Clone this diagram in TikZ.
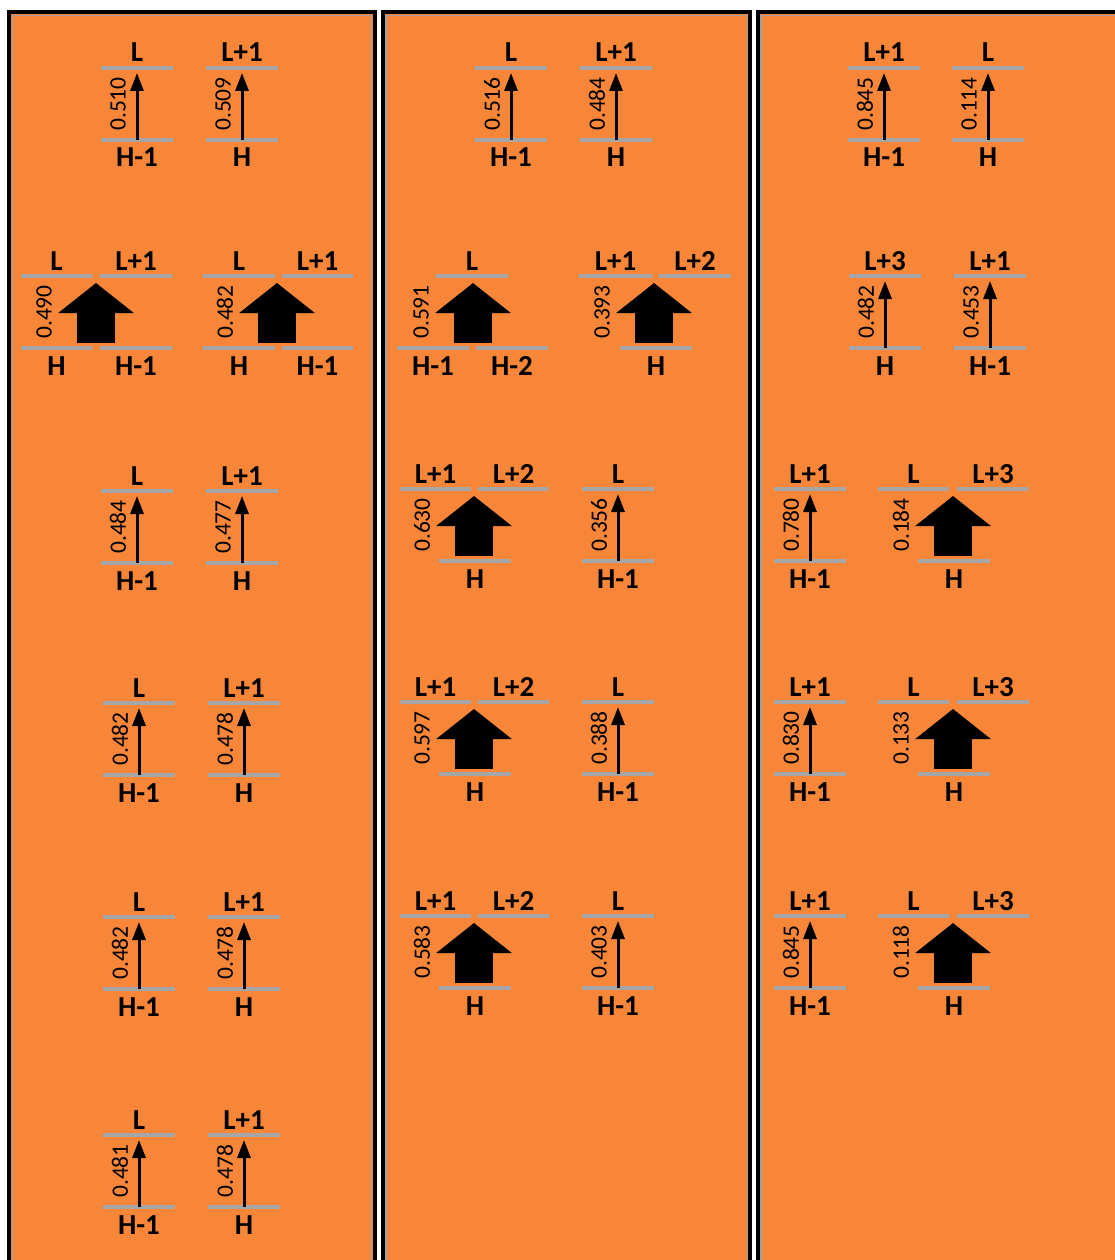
\documentclass[tikz,border=0pt]{standalone}
\usepackage{fontspec}
\usetikzlibrary{arrows.meta}
\newfontfamily\labfont{Carlito}
\newfontfamily\numfont{Carlito}
\definecolor{panelorange}{RGB}{247,134,57}
\definecolor{levelgray}{RGB}{166,166,166}
\definecolor{edgegray}{RGB}{160,160,160}
\tikzset{
  panel/.style={draw=black,line width=4pt,fill=panelorange},
  paneledge/.style={draw=edgegray,line width=1.5pt},
  level/.style={draw=levelgray,line width=4pt},
  lab/.style={font=\labfont\bfseries\fontsize{29}{29}\selectfont,anchor=base,inner sep=0pt},
  num/.style={font=\numfont\fontsize{23.5}{23.5}\selectfont,rotate=90,inner sep=0pt},
  smallarr/.style={line width=3pt,-{Triangle[length=18pt,width=13pt]}},
  bigarr/.style={line width=38pt,-{Triangle[length=30pt,width=74pt]}},
}
% level line with a label above it
\newcommand\toplevel[5]{%
  \coordinate (#1-l) at (#2,#4); \coordinate (#1-r) at (#3,#4);
  \draw[level] (#1-l) -- (#1-r);
  \node[lab] (#1) at ({(#2+#3)/2},{#4-6}) {#5};}
% level line with a label below it
\newcommand\botlevel[5]{%
  \coordinate (#1-l) at (#2,#4); \coordinate (#1-r) at (#3,#4);
  \draw[level] (#1-l) -- (#1-r);
  \node[lab] (#1) at ({(#2+#3)/2},{#4+27}) {#5};}
% small transition: name, cx, ty, by, top label, bottom label, number
\newcommand\smallpair[7]{%
  \toplevel{#1-t}{#2-36}{#2+36}{#3}{#5}
  \botlevel{#1-b}{#2-36}{#2+36}{#4}{#6}
  \coordinate (#1-from) at (#2,#4); \coordinate (#1-to) at (#2,{#3+5});
  \draw[smallarr] (#1-from) -- (#1-to);
  \node[num] (#1-num) at ({#2-19},{(#3+#4)/2}) {#7};}
% big arrow: name, cx, ty, by, number
\newcommand\bigarrow[5]{%
  \coordinate (#1-from) at (#2,{#4-5}); \coordinate (#1-to) at (#2,{#3+7});
  \draw[bigarr] (#1-from) -- (#1-to);
  \node[num] (#1-num) at ({#2-52},{(#3+#4)/2}) {#5};}
\begin{document}
\begin{tikzpicture}[x=1pt,y=-1pt]
\useasboundingbox (0,0) rectangle (1115,1260);
\fill[white] (0,0) rectangle (1115,1260);
\clip (0,0) rectangle (1115,1260);
% panels
\draw[panel] (9,12) rectangle (375,1300);
\draw[paneledge] (12.5,15.5) rectangle (371.5,1300);
\draw[panel] (382.5,12) rectangle (750,1300);
\draw[paneledge] (386,15.5) rectangle (746.5,1300);
\draw[panel] (757.5,12) rectangle (1140,1300);
\draw[paneledge] (761,15.5) rectangle (1140,1300);

% ---------- panel 1 ----------
\smallpair{a1}{137}{68}{140}{L}{H-1}{0.510}
\smallpair{a2}{242}{68}{140}{L+1}{H}{0.509}
\toplevel{a3tl}{21}{92}{276}{L}
\toplevel{a3tr}{100}{172}{276}{L+1}
\botlevel{a3bl}{21}{92}{348}{H}
\botlevel{a3br}{100}{172}{348}{H-1}
\bigarrow{a3}{96}{276}{348}{0.490}
\toplevel{a4tl}{203}{275}{276}{L}
\toplevel{a4tr}{282}{353}{276}{L+1}
\botlevel{a4bl}{203}{275}{348}{H}
\botlevel{a4br}{282}{353}{348}{H-1}
\bigarrow{a4}{277}{276}{348}{0.482}
\smallpair{a5}{137}{491}{563}{L}{H-1}{0.484}
\smallpair{a6}{242}{491}{563}{L+1}{H}{0.477}
\smallpair{a7}{139}{703}{775}{L}{H-1}{0.482}
\smallpair{a8}{244}{703}{775}{L+1}{H}{0.478}
\smallpair{a9}{139}{917}{989}{L}{H-1}{0.482}
\smallpair{a10}{244}{917}{989}{L+1}{H}{0.478}
\smallpair{a11}{139}{1135}{1207}{L}{H-1}{0.481}
\smallpair{a12}{244}{1135}{1207}{L+1}{H}{0.478}

% ---------- panel 2 ----------
\smallpair{b1}{511}{68}{140}{L}{H-1}{0.516}
\smallpair{b2}{616}{68}{140}{L+1}{H}{0.484}
\toplevel{b3t}{436}{508}{276}{L}
\botlevel{b3bl}{397}{469}{348}{H-1}
\botlevel{b3br}{476}{548}{348}{H-2}
\bigarrow{b3}{473}{276}{348}{0.591}
\toplevel{b4tl}{579}{652}{276}{L+1}
\toplevel{b4tr}{659}{731}{276}{L+2}
\botlevel{b4b}{620}{692}{348}{H}
\bigarrow{b4}{654}{276}{348}{0.393}
\toplevel{b5tl}{400}{471}{489}{L+1}
\toplevel{b5tr}{478}{549}{489}{L+2}
\botlevel{b5b}{439}{511}{561}{H}
\bigarrow{b5}{474}{489}{561}{0.630}
\smallpair{b6}{618}{489}{561}{L}{H-1}{0.356}
\toplevel{b7tl}{400}{471}{702}{L+1}
\toplevel{b7tr}{478}{549}{702}{L+2}
\botlevel{b7b}{439}{511}{774}{H}
\bigarrow{b7}{474}{702}{774}{0.597}
\smallpair{b8}{618}{702}{774}{L}{H-1}{0.388}
\toplevel{b9tl}{400}{471}{916}{L+1}
\toplevel{b9tr}{478}{549}{916}{L+2}
\botlevel{b9b}{439}{511}{988}{H}
\bigarrow{b9}{474}{916}{988}{0.583}
\smallpair{b10}{618}{916}{988}{L}{H-1}{0.403}

% ---------- panel 3 ----------
\smallpair{c1}{884}{68}{140}{L+1}{H-1}{0.845}
\smallpair{c2}{988}{68}{140}{L}{H}{0.114}
\smallpair{c3}{885}{276}{348}{L+3}{H}{0.482}
\smallpair{c4}{990}{276}{348}{L+1}{H-1}{0.453}
\smallpair{c5}{810}{489}{561}{L+1}{H-1}{0.780}
\toplevel{c6tl}{878}{949}{489}{L}
\toplevel{c6tr}{957}{1029}{489}{L+3}
\botlevel{c6b}{918}{990}{561}{H}
\bigarrow{c6}{953}{489}{561}{0.184}
\smallpair{c7}{810}{702}{774}{L+1}{H-1}{0.830}
\toplevel{c8tl}{878}{949}{702}{L}
\toplevel{c8tr}{957}{1029}{702}{L+3}
\botlevel{c8b}{918}{990}{774}{H}
\bigarrow{c8}{953}{702}{774}{0.133}
\smallpair{c9}{810}{916}{988}{L+1}{H-1}{0.845}
\toplevel{c10tl}{878}{949}{916}{L}
\toplevel{c10tr}{957}{1029}{916}{L+3}
\botlevel{c10b}{918}{990}{988}{H}
\bigarrow{c10}{953}{916}{988}{0.118}
\end{tikzpicture}
\end{document}
